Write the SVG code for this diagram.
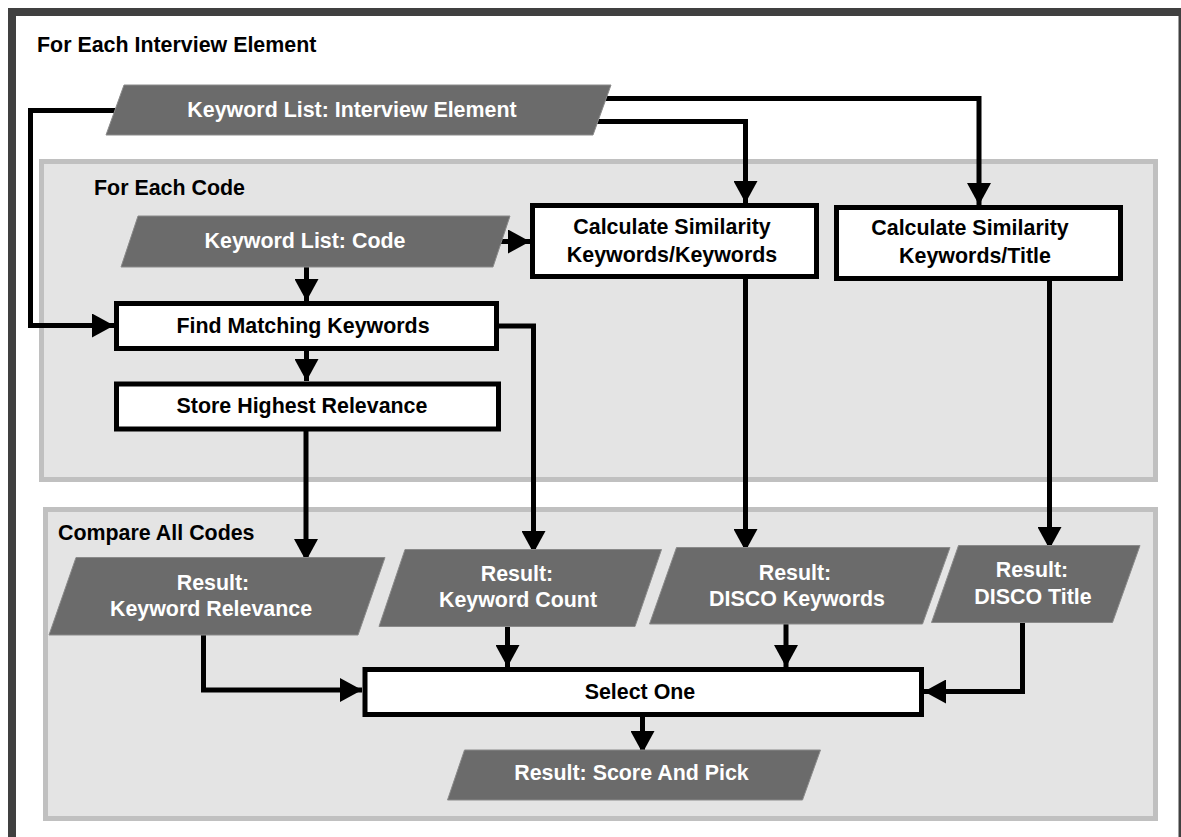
<svg xmlns="http://www.w3.org/2000/svg" width="1181" height="837" viewBox="0 0 1181 837">
  <defs>
    <marker id="arrow" markerUnits="userSpaceOnUse" markerWidth="24" markerHeight="24" refX="22" refY="12" orient="auto">
      <path d="M0,0 L22,12 L0,24 z" fill="#000"/>
    </marker>
    <style>
      text { font-family: "Liberation Sans", Arial, sans-serif; font-weight: bold; font-size: 21.4px; }
      .lbl { fill: #000; }
      .data { fill: #6b6b6b; stroke: #8a8a8a; stroke-width: 1; }
      .data-t { fill: #fff; text-anchor: middle; }
      .proc { fill: #fff; stroke: #000; stroke-width: 5; }
      .proc-t { fill: #000; text-anchor: middle; }
      .zone { fill: #e4e4e4; stroke: #c0c0c0; stroke-width: 5; }
      .wire { fill: none; stroke: #000; stroke-width: 5; stroke-linejoin: miter; }
      .wire-a { fill: none; stroke: #000; stroke-width: 5; marker-end: url(#arrow); }
    </style>
  </defs>

  <rect width="1181" height="837" fill="#fff"/>

  <!-- outer loop frame -->
  <g id="frame-interview">
    <rect x="8" y="8" width="1173" height="8" fill="#404040"/>
    <rect x="8" y="8" width="8" height="829" fill="#404040"/>
    <rect x="1178.5" y="16" width="2.5" height="821" fill="#404040"/>
    <text class="lbl" x="37" y="52">For Each Interview Element</text>
  </g>

  <!-- inner loop zones -->
  <g id="zone-code">
    <rect class="zone" x="41.5" y="161.5" width="1114" height="318"/>
    <text class="lbl" x="94" y="195">For Each Code</text>
  </g>
  <g id="zone-compare">
    <rect class="zone" x="45.5" y="509.5" width="1110" height="309"/>
    <text class="lbl" x="58" y="540">Compare All Codes</text>
  </g>

  <!-- connectors -->
  <g id="connectors">
    <polyline class="wire-a" points="600,98.5 979,98.5 979,205"/>
    <polyline class="wire-a" points="590,121.5 745.5,121.5 745.5,203"/>
    <polyline class="wire-a" points="118,110.5 30.5,110.5 30.5,325.5 114,325.5"/>
    <line class="wire-a" x1="499" y1="241.5" x2="530" y2="241.5"/>
    <line class="wire-a" x1="306.5" y1="266" x2="306.5" y2="301"/>
    <line class="wire-a" x1="306.5" y1="350" x2="306.5" y2="381"/>
    <polyline class="wire-a" points="499,326 533.5,326 533.5,553"/>
    <line class="wire-a" x1="306" y1="431" x2="306" y2="561"/>
    <line class="wire-a" x1="745.5" y1="279" x2="745.5" y2="551"/>
    <line class="wire-a" x1="1049.5" y1="281" x2="1049.5" y2="549"/>
    <polyline class="wire-a" points="203.5,634 203.5,690 362,690"/>
    <line class="wire-a" x1="507.5" y1="626" x2="507.5" y2="667"/>
    <line class="wire-a" x1="786" y1="624" x2="786" y2="667"/>
    <polyline class="wire-a" points="1022.5,622 1022.5,691.5 924,691.5"/>
    <line class="wire-a" x1="642.5" y1="716" x2="642.5" y2="753"/>
  </g>

  <!-- data nodes -->
  <g id="kw-interview">
    <polygon class="data" points="124,85 611,85 593,135 106,135"/>
    <text class="data-t" x="352" y="117">Keyword List: Interview Element</text>
  </g>
  <g id="kw-code">
    <polygon class="data" points="138,216 510,216 493,267 121,267"/>
    <text class="data-t" x="305" y="248">Keyword List: Code</text>
  </g>

  <!-- process nodes -->
  <g id="calc-kw-kw">
    <rect class="proc" x="532.5" y="205.5" width="284" height="71"/>
    <text class="proc-t" x="672" y="234">Calculate Similarity</text>
    <text class="proc-t" x="672" y="262">Keywords/Keywords</text>
  </g>
  <g id="calc-kw-title">
    <rect class="proc" x="836.5" y="207.5" width="284" height="71"/>
    <text class="proc-t" x="970" y="235">Calculate Similarity</text>
    <text class="proc-t" x="975" y="263">Keywords/Title</text>
  </g>
  <g id="find-matching">
    <rect class="proc" x="116.5" y="303.5" width="380" height="45"/>
    <text class="proc-t" x="303" y="333">Find Matching Keywords</text>
  </g>
  <g id="store-highest">
    <rect class="proc" x="116.5" y="384" width="382" height="45"/>
    <text class="proc-t" x="302" y="412.5">Store Highest Relevance</text>
  </g>

  <!-- result nodes -->
  <g id="res-relevance">
    <polygon class="data" points="76,557.5 385,557.5 358,635 49,635"/>
    <text class="data-t" x="213" y="589.5">Result:</text>
    <text class="data-t" x="211" y="615.5">Keyword Relevance</text>
  </g>
  <g id="res-count">
    <polygon class="data" points="405,549.5 661.5,549.5 635,626.5 379,626.5"/>
    <text class="data-t" x="517" y="581">Result:</text>
    <text class="data-t" x="518" y="607">Keyword Count</text>
  </g>
  <g id="res-disco-kw">
    <polygon class="data" points="676.5,547.5 950,547.5 922.5,624 649.5,624"/>
    <text class="data-t" x="795" y="580">Result:</text>
    <text class="data-t" x="797" y="605.5">DISCO Keywords</text>
  </g>
  <g id="res-disco-title">
    <polygon class="data" points="958.5,545.5 1140,545.5 1112.5,622.5 931.5,622.5"/>
    <text class="data-t" x="1032" y="577">Result:</text>
    <text class="data-t" x="1033" y="604">DISCO Title</text>
  </g>

  <g id="select-one">
    <rect class="proc" x="365" y="669.5" width="556.5" height="45"/>
    <text class="proc-t" x="640" y="698.5">Select One</text>
  </g>

  <g id="res-score">
    <polygon class="data" points="464.5,750 820.5,750 802.5,800 447.5,800"/>
    <text class="data-t" x="631.5" y="780">Result: Score And Pick</text>
  </g>
</svg>
